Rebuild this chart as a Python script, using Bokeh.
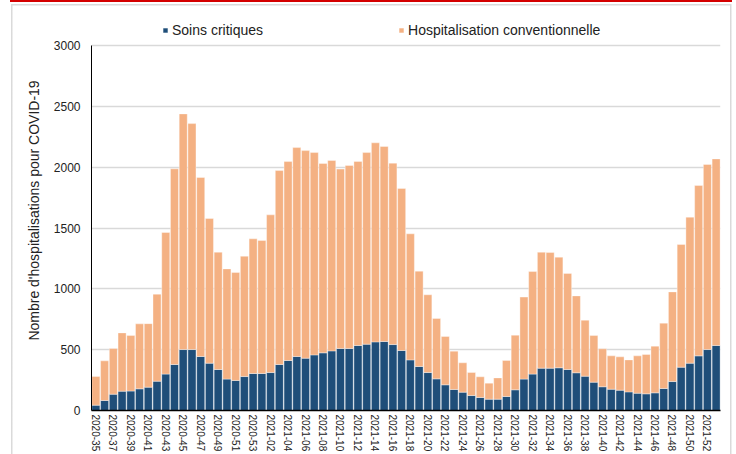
from bokeh.plotting import figure
from bokeh.models import Range1d, FixedTicker, ColumnDataSource, Legend, LegendItem
from bokeh.embed import file_html
from bokeh.resources import INLINE

# ---- data -------------------------------------------------------------
weeks = ([f"2020-{w:02d}" for w in range(35, 54)]
         + [f"2021-{w:02d}" for w in range(1, 53)]
         + ["2022-01"])

soins_critiques = [44, 82, 134, 159, 160, 178, 192, 241, 299, 378,
                   501, 501, 444, 389, 337, 258, 247, 279, 304, 304,
                   312, 378, 411, 444, 430, 457, 474, 490, 510, 510,
                   534, 545, 564, 567, 542, 493, 416, 362, 312, 260,
                   211, 173, 151, 123, 107, 93, 93, 115, 170, 258,
                   299, 348, 348, 351, 337, 310, 282, 233, 195, 175,
                   167, 153, 142, 137, 145, 181, 238, 356, 389, 449,
                   501, 534]

hospit_conv = [235, 326, 375, 479, 456, 534, 522, 715, 1164, 1608,
               1937, 1857, 1471, 1189, 964, 906, 887, 989, 1107, 1093,
               1296, 1594, 1635, 1717, 1706, 1663, 1556, 1565, 1474, 1504,
               1513, 1575, 1636, 1603, 1491, 1332, 1036, 783, 639, 496,
               397, 315, 241, 189, 170, 132, 175, 296, 449, 674,
               843, 953, 950, 909, 790, 632, 460, 383, 312, 274,
               274, 263, 307, 323, 384, 537, 737, 1008, 1200, 1400,
               1521, 1534]

series_names = ["Soins critiques", "Hospitalisation conventionnelle"]
series_colors = ["#1f4e79", "#f4b183"]
y_ticks = [0, 500, 1000, 1500, 2000, 2500, 3000]
y_title = "Nombre d'hospitalisations pour COVID-19"

# ---- figure -----------------------------------------------------------
FONT = "Liberation Sans"
idx = list(range(len(weeks)))
src = ColumnDataSource(dict(x=idx, crit=soins_critiques, conv=hospit_conv,
                            week=weeks))

y_max = y_ticks[-1]
# frame extends 35px above the 3000 line to host the legend (400px frame, 365px for 0..3000)
y_top = y_max * 400.0 / 365.0

page_bg = ("linear-gradient(#d40000,#d40000) 10px 0px / 722px 2px no-repeat, "
           "linear-gradient(#dadada,#dadada) 11px 4px / 720px 1.5px no-repeat, "
           "linear-gradient(#dadada,#dadada) 11px 4px / 1.5px 460px no-repeat, "
           "linear-gradient(#dadada,#dadada) 729.5px 4px / 1.5px 460px no-repeat, "
           "#ffffff")

p = figure(width=736, height=454, output_backend="svg", toolbar_location=None,
           x_range=Range1d(-0.5, len(weeks) - 0.5), y_range=Range1d(0, y_top),
           min_border_left=91, min_border_right=16, min_border_top=10,
           min_border_bottom=44, styles={"background": page_bg})
p.outline_line_color = None
p.background_fill_color = "white"
p.border_fill_color = None

rs = p.vbar_stack(["crit", "conv"], x="x", width=0.92, source=src,
                  fill_color=series_colors, line_color="white", line_alpha=0.6,
                  line_width=0.6)

# x axis
tick_pos = idx[::2]
p.xaxis.ticker = FixedTicker(ticks=tick_pos)
p.xaxis.major_label_overrides = {i: weeks[i] for i in tick_pos}
p.xaxis.major_label_orientation = "vertical"
p.xaxis.axis_line_color = "black"
p.xaxis.axis_line_width = 1.5
p.xaxis.major_tick_line_color = None
p.xaxis.minor_tick_line_color = None
p.xaxis.major_tick_out = 0
p.xaxis.major_label_standoff = 4
p.xaxis.major_label_text_font = FONT
p.xaxis.major_label_text_font_size = "10px"
p.xaxis.major_label_text_color = "#222222"

# y axis
p.yaxis.ticker = FixedTicker(ticks=y_ticks)
p.yaxis.bounds = (0, y_max)
p.yaxis.axis_line_color = "black"
p.yaxis.axis_line_width = 1
p.yaxis.major_tick_line_color = None
p.yaxis.minor_tick_line_color = None
p.yaxis.major_tick_out = 0
p.yaxis.major_label_standoff = 11
p.yaxis.major_label_text_font = FONT
p.yaxis.major_label_text_font_size = "12px"
p.yaxis.major_label_text_color = "#222222"
p.yaxis.axis_label = y_title
p.yaxis.axis_label_text_font = FONT
p.yaxis.axis_label_text_font_size = "14px"
p.yaxis.axis_label_text_font_style = "normal"
p.yaxis.axis_label_text_color = "#222222"
p.yaxis.axis_label_standoff = 9

p.xgrid.grid_line_color = None
p.ygrid.grid_line_color = "#d9d9d9"
p.ygrid.grid_line_width = 1.5

# legend (inside the top strip of the frame, above the 3000 line)
lg = Legend(items=[LegendItem(label=series_names[0], renderers=[rs[0]]),
                   LegendItem(label=series_names[1], renderers=[rs[1]])],
            orientation="horizontal", location=(71, 365),
            border_line_color=None, background_fill_alpha=0,
            padding=0, margin=0, spacing=135,
            glyph_width=6, glyph_height=6, label_standoff=4, label_height=30,
            label_text_font=FONT, label_text_font_size="14px",
            label_text_color="#222222")
p.add_layout(lg, "center")

open("out.html", "w").write(file_html(p, INLINE))
